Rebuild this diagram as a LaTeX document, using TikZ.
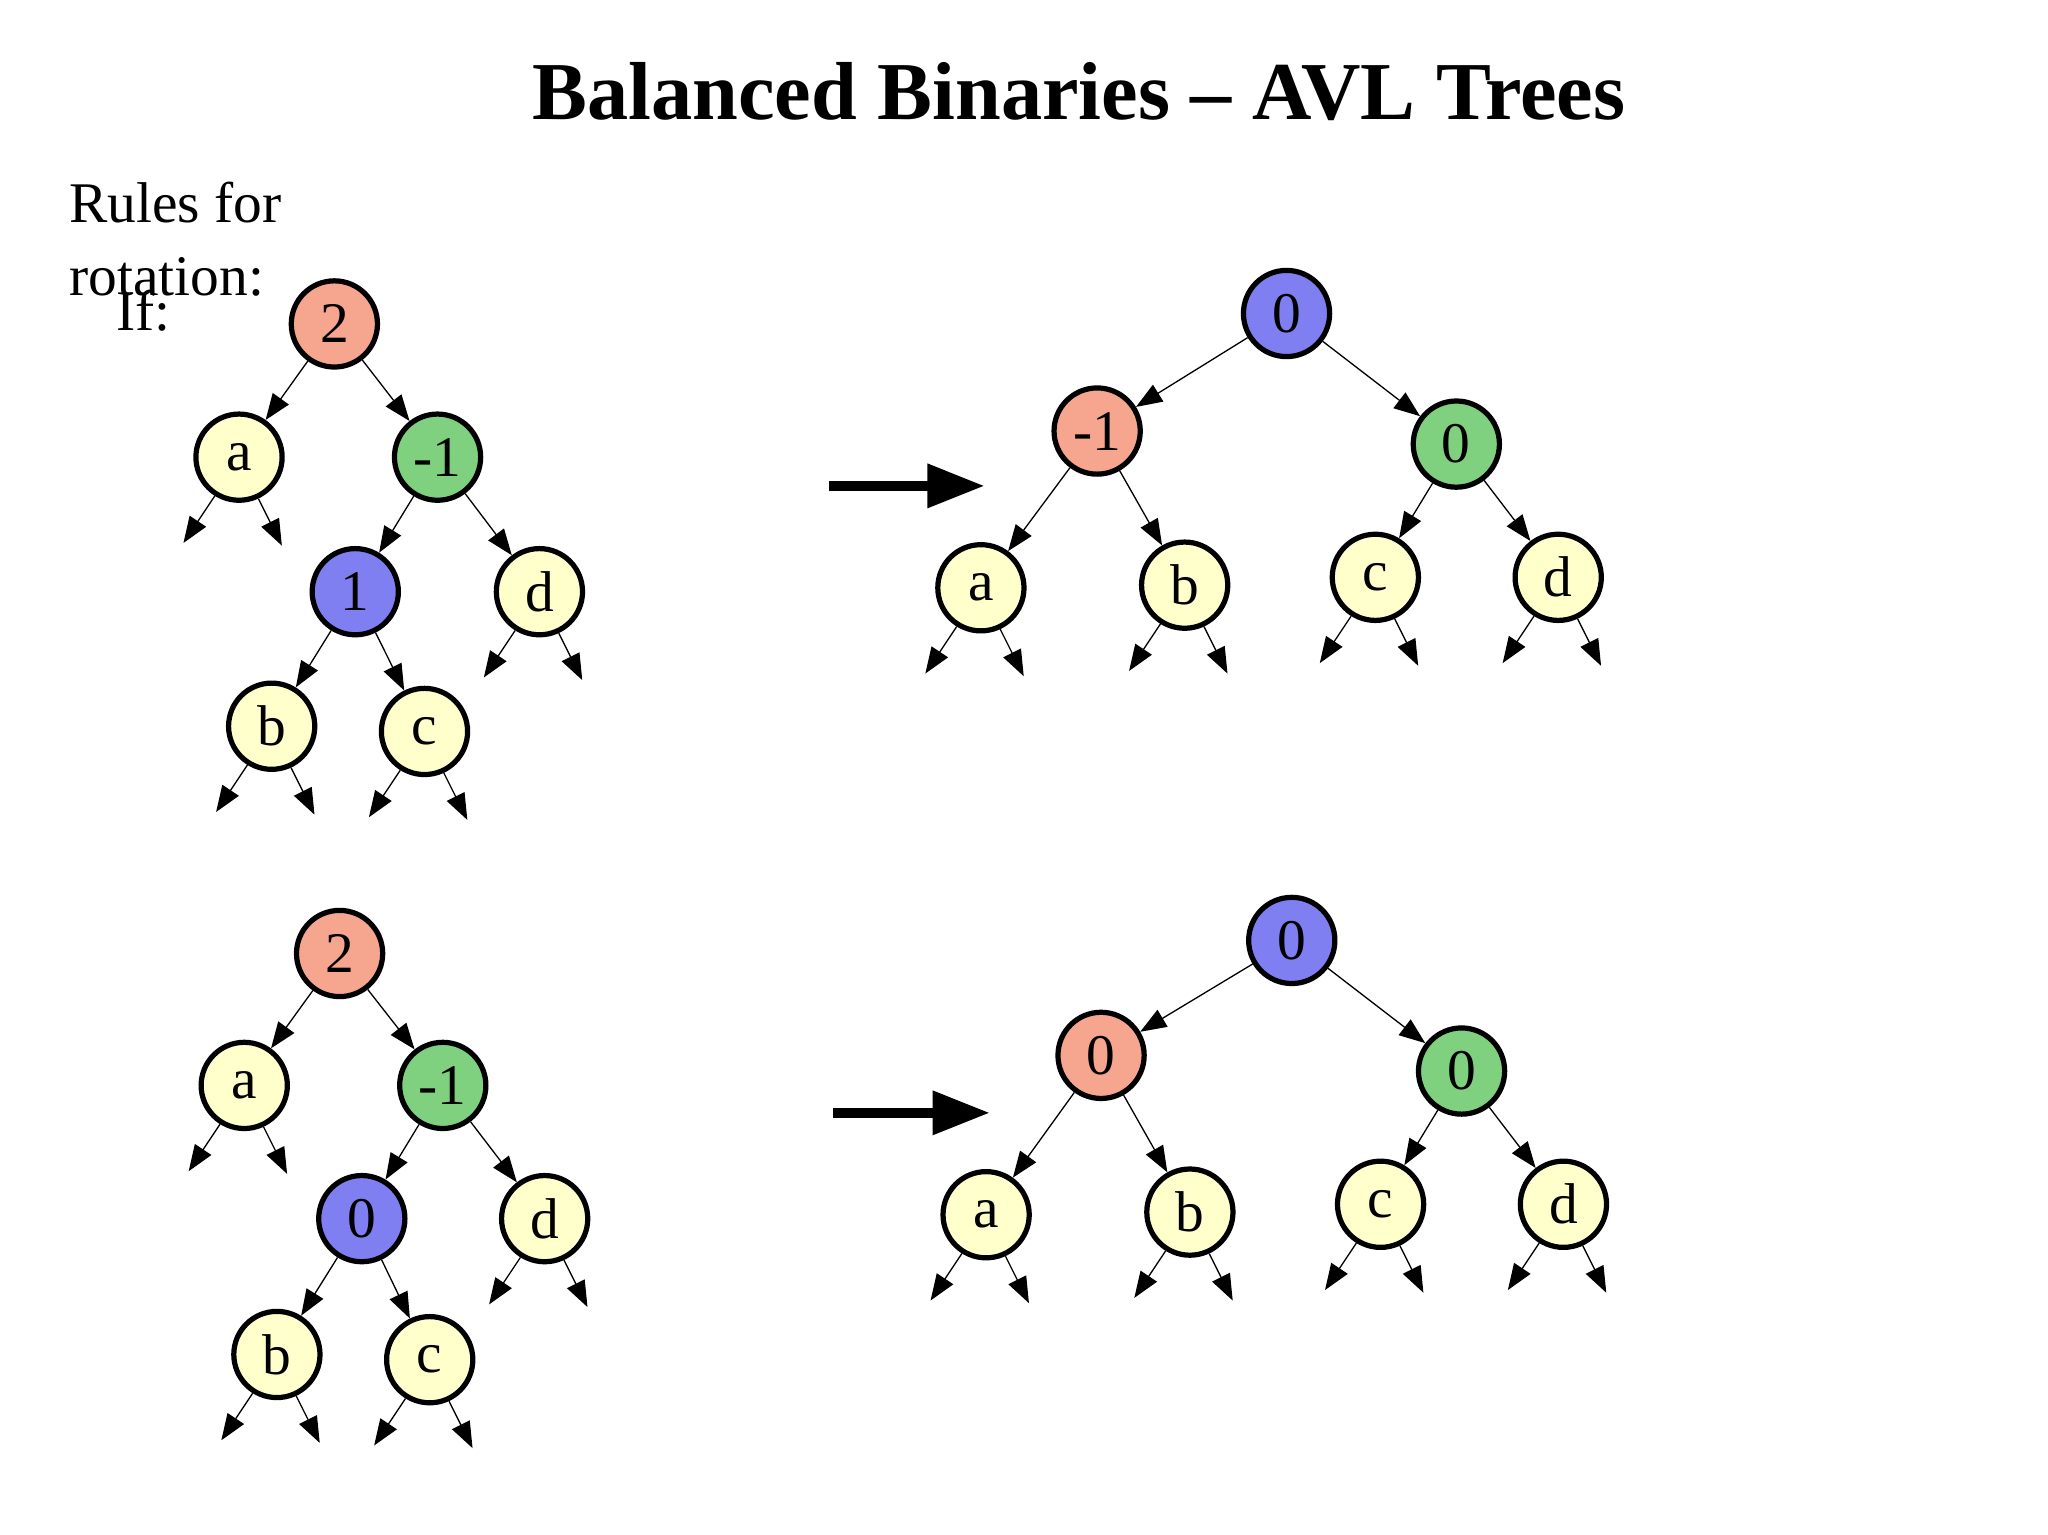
\documentclass[tikz,border=0pt]{standalone}
\usepackage{fontspec}
\setmainfont{Liberation Serif}
\usetikzlibrary{arrows.meta}
\definecolor{salm}{HTML}{F6A68E}
\definecolor{grn}{HTML}{7FD17F}
\definecolor{blu}{HTML}{7F7FF2}
\definecolor{yel}{HTML}{FFFFCC}
\tikzset{
  nd/.style={circle,draw,line width=2pt,minimum size=33pt,inner sep=0pt,font=\fontsize{22}{22}\selectfont},
  sn/.style={nd,fill=salm}, gn/.style={nd,fill=grn}, bn/.style={nd,fill=blu}, yn/.style={nd,fill=yel},
  ed/.style={line width=0.5pt,-{Triangle[length=10pt,width=7.5pt]}},
  big/.style={line width=4pt,-{Triangle[length=22pt,width=16pt]}}
}
\newcommand{\lv}[1]{\draw[ed] (#1.238) -- ++(-24,36); \draw[ed] (#1.295) -- ++(18,36);}
\begin{document}
\begin{tikzpicture}[x=0.5pt,y=-0.5pt]
\useasboundingbox (0,0) rectangle (1568,1175);
\node[font=\bfseries\fontsize{31.5}{31.5}\selectfont] (title) at (826,70) {Balanced Binaries – AVL Trees};
\node[anchor=west,font=\fontsize{22}{22}\selectfont] (r1) at (46,155) {Rules for};
\node[anchor=west,font=\fontsize{22}{22}\selectfont] (r2) at (46,212) {rotation:};
\node[anchor=west,font=\fontsize{22}{22}\selectfont] (r3) at (82,238) {If:};
% top left
\node[sn] (A2) at (256,248) {2};
\node[yn] (Aa) at (183,350) {a};
\node[gn] (Am) at (335,350) {-1};
\node[bn] (A1) at (272,453) {1};
\node[yn] (Ad) at (413,453) {d};
\node[yn] (Ab) at (208,556) {b};
\node[yn] (Ac) at (325,560) {c};
\draw[ed] (A2)--(Aa); \draw[ed] (A2)--(Am); \draw[ed] (Am)--(A1); \draw[ed] (Am)--(Ad);
\draw[ed] (A1)--(Ab); \draw[ed] (A1)--(Ac);
\lv{Aa}\lv{Ad}\lv{Ab}\lv{Ac}
% top right
\node[bn] (B0) at (985,240) {0};
\node[sn] (Bm) at (840,330) {-1};
\node[gn] (Bg) at (1115,340) {0};
\node[yn] (Ba) at (751,450) {a};
\node[yn] (Bb) at (907,448) {b};
\node[yn] (Bc) at (1053,442) {c};
\node[yn] (Bd) at (1193,442) {d};
\draw[ed] (B0)--(Bm); \draw[ed] (B0)--(Bg); \draw[ed] (Bm)--(Ba); \draw[ed] (Bm)--(Bb);
\draw[ed] (Bg)--(Bc); \draw[ed] (Bg)--(Bd);
\lv{Ba}\lv{Bb}\lv{Bc}\lv{Bd}
\coordinate (ar1s) at (635,372); \coordinate (ar1e) at (754,372);
\draw[big] (ar1s)--(ar1e);
% bottom left
\node[sn] (C2) at (260,730) {2};
\node[yn] (Ca) at (187,831) {a};
\node[gn] (Cm) at (339,831) {-1};
\node[bn] (C1) at (277,933) {0};
\node[yn] (Cd) at (417,933) {d};
\node[yn] (Cb) at (212,1037) {b};
\node[yn] (Cc) at (329,1041) {c};
\draw[ed] (C2)--(Ca); \draw[ed] (C2)--(Cm); \draw[ed] (Cm)--(C1); \draw[ed] (Cm)--(Cd);
\draw[ed] (C1)--(Cb); \draw[ed] (C1)--(Cc);
\lv{Ca}\lv{Cd}\lv{Cb}\lv{Cc}
% bottom right
\node[bn] (D0) at (989,720) {0};
\node[sn] (Dm) at (843,808) {0};
\node[gn] (Dg) at (1119,820) {0};
\node[yn] (Da) at (755,930) {a};
\node[yn] (Db) at (911,928) {b};
\node[yn] (Dc) at (1057,922) {c};
\node[yn] (Dd) at (1197,922) {d};
\draw[ed] (D0)--(Dm); \draw[ed] (D0)--(Dg); \draw[ed] (Dm)--(Da); \draw[ed] (Dm)--(Db);
\draw[ed] (Dg)--(Dc); \draw[ed] (Dg)--(Dd);
\lv{Da}\lv{Db}\lv{Dc}\lv{Dd}
\coordinate (ar2s) at (638,852); \coordinate (ar2e) at (758,852);
\draw[big] (ar2s)--(ar2e);
\end{tikzpicture}
\end{document}
